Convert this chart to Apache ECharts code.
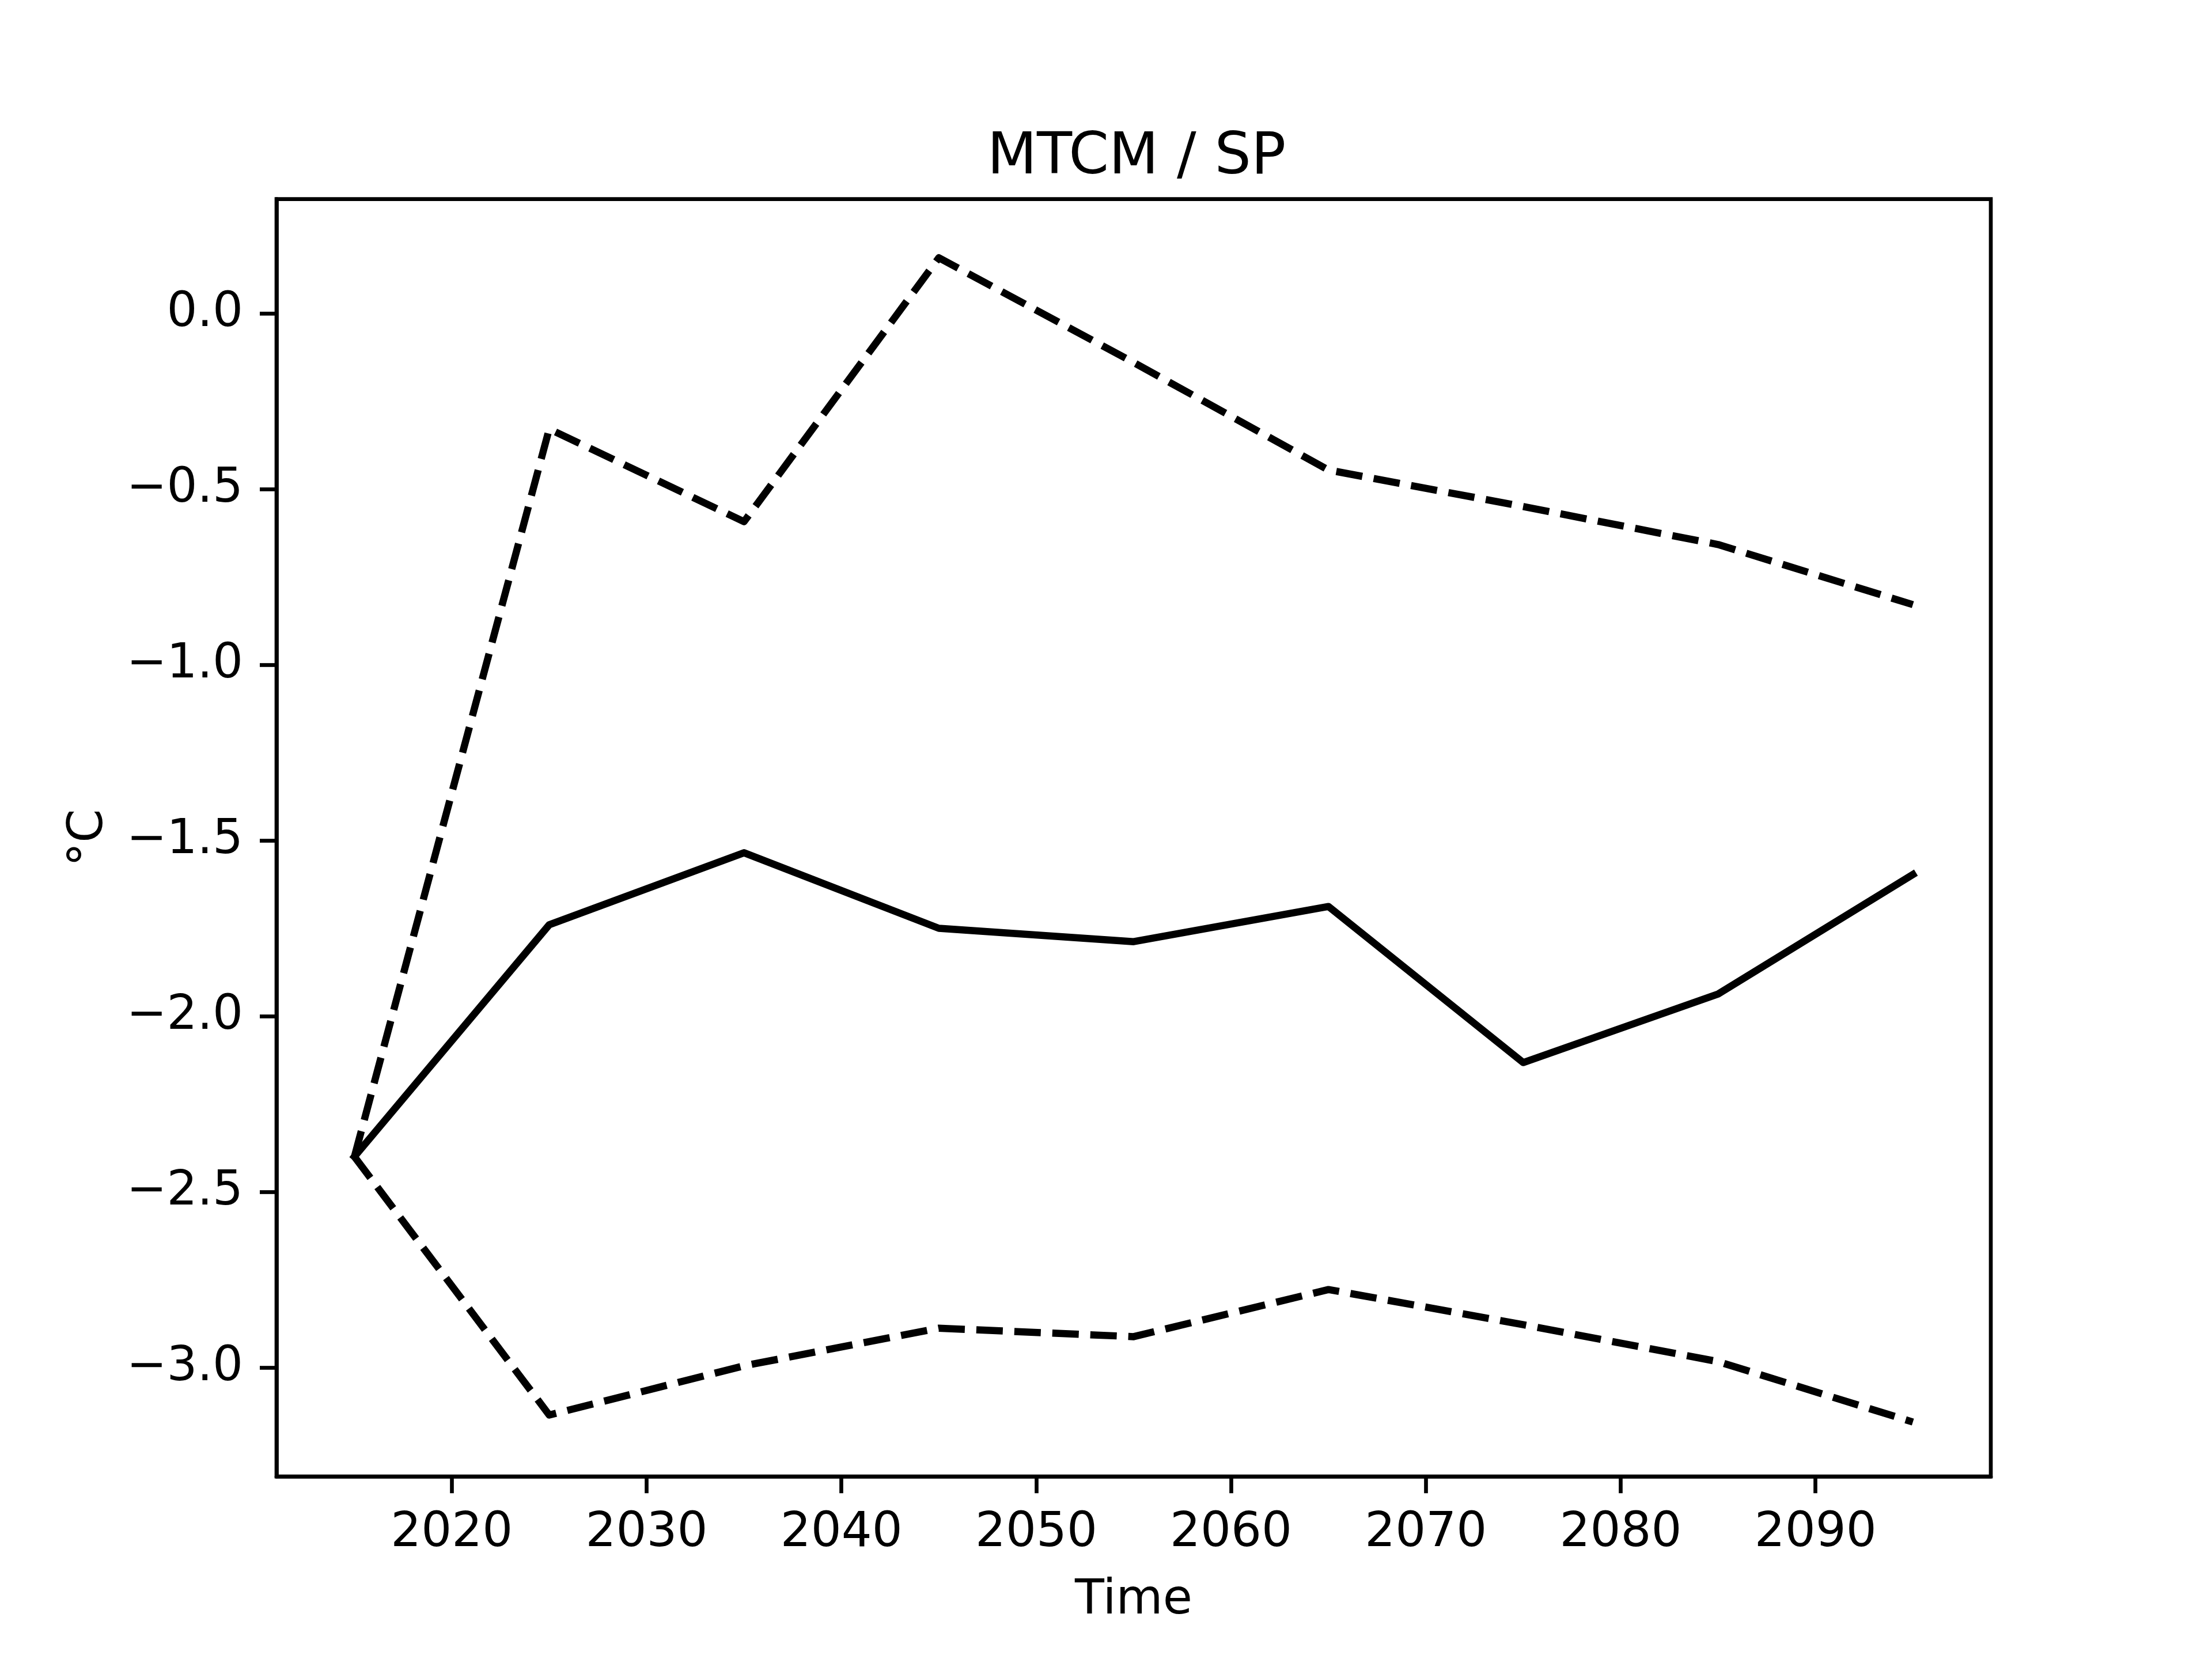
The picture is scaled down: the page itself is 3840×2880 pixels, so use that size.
<!DOCTYPE html>
<html>
<head>
<meta charset="utf-8">
<script src="https://cdn.jsdelivr.net/npm/echarts@6/dist/echarts.min.js"></script>
<style>html,body{margin:0;padding:0;background:#fff}#c{width:3840px;height:2880px}</style>
</head>
<body>
<div id="c"></div>
<script>
const years = [2015, 2025, 2035, 2045, 2055, 2065, 2075, 2085, 2095];
const meanVals = [-2.40, -1.74, -1.535, -1.75, -1.788, -1.688, -2.132, -1.937, -1.597];
const upperVals = [-2.40, -0.329, -0.593, 0.158, -0.14, -0.446, -0.55, -0.658, -0.829];
const lowerVals = [-2.40, -3.135, -2.995, -2.888, -2.912, -2.778, -2.878, -2.983, -3.155];
const xTicks = [2020, 2030, 2040, 2050, 2060, 2070, 2080, 2090];
const yTicks = [-3.0, -2.5, -2.0, -1.5, -1.0, -0.5, 0.0];

const pair = (xs, ys) => xs.map((x, i) => [x, ys[i]]);
const fmtY = v => Number(v).toFixed(1).replace('-', '\u2212');
const FONT = 'DejaVu Sans';

const chart = echarts.init(document.getElementById('c'), null, {renderer: 'canvas'});
chart.setOption({
  animation: false,
  backgroundColor: '#ffffff',
  title: {
    text: 'MTCM / SP',
    left: 1968, textAlign: 'center',
    top: 220,
    textStyle: {fontFamily: FONT, fontSize: 100, fontWeight: 'normal', color: '#000'}
  },
  grid: {
    left: 480, right: 384, top: 345.6, bottom: 316.8,
    show: true, borderColor: '#000', borderWidth: 6.67, backgroundColor: 'transparent'
  },
  xAxis: {
    type: 'value', min: 2011, max: 2099,
    name: 'Time', nameLocation: 'middle', nameGap: 175,
    nameTextStyle: {fontFamily: FONT, fontSize: 83.3, color: '#000'},
    axisLine: {show: true, onZero: false, lineStyle: {color: '#000', width: 6.67}},
    splitLine: {show: false},
    axisTick: {show: true, inside: false, length: 29, customValues: xTicks,
      lineStyle: {color: '#000', width: 6.67}},
    axisLabel: {customValues: xTicks, margin: 58, fontFamily: FONT, fontSize: 83.3, color: '#000',
      formatter: v => String(v)}
  },
  yAxis: {
    type: 'value', min: -3.31, max: 0.325,
    name: '°C', nameLocation: 'middle', nameGap: 283, nameRotate: 90,
    nameTextStyle: {fontFamily: FONT, fontSize: 83.3, color: '#000'},
    axisLine: {show: true, onZero: false, lineStyle: {color: '#000', width: 6.67}},
    splitLine: {show: false},
    axisTick: {show: true, inside: false, length: 29, customValues: yTicks,
      lineStyle: {color: '#000', width: 6.67}},
    axisLabel: {customValues: yTicks, margin: 58, fontFamily: FONT, fontSize: 83.3, color: '#000',
      formatter: fmtY}
  },
  series: [
    {type: 'line', data: pair(years, upperVals), symbol: 'none', silent: true,
      lineStyle: {color: '#000', width: 12.5, type: [46, 20], cap: 'butt', join: 'round'}},
    {type: 'line', data: pair(years, lowerVals), symbol: 'none', silent: true,
      lineStyle: {color: '#000', width: 12.5, type: [46, 20], cap: 'butt', join: 'round'}},
    {type: 'line', data: pair(years, meanVals), symbol: 'none', silent: true,
      lineStyle: {color: '#000', width: 12.5, type: 'solid', cap: 'square', join: 'round'}}
  ]
});
</script>
</body>
</html>
